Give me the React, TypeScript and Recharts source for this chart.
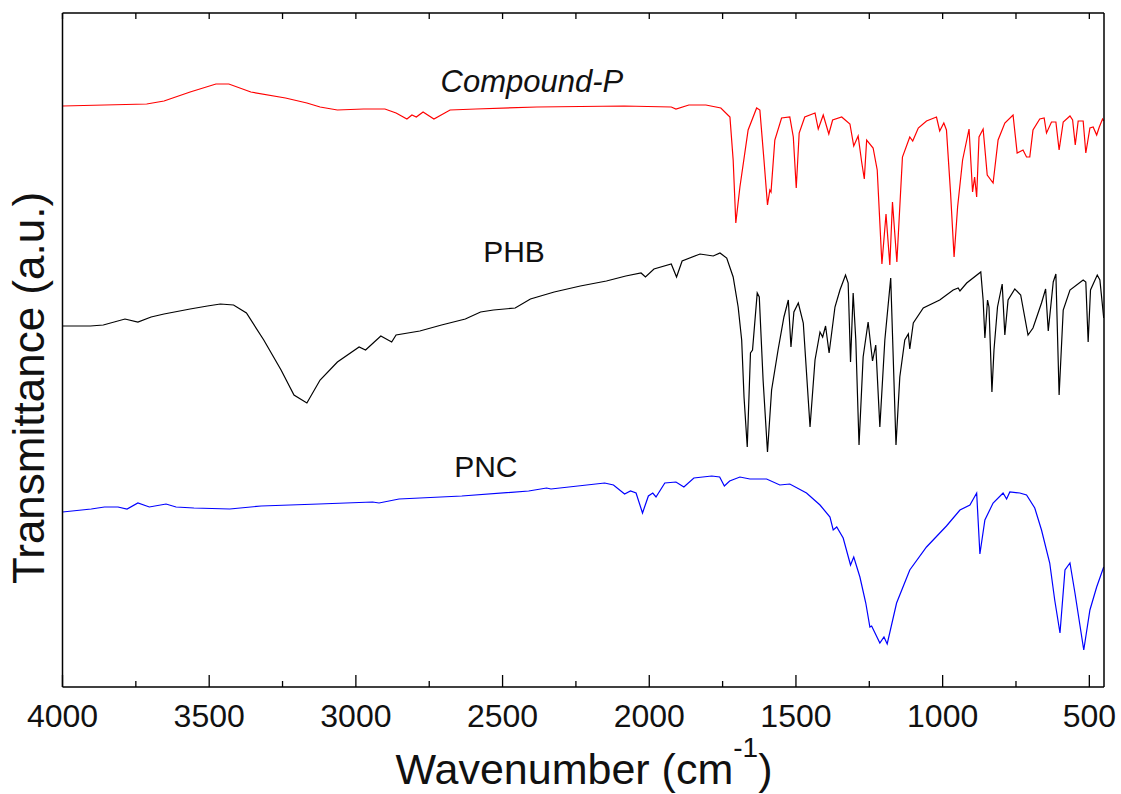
import { LineChart, Line, XAxis, YAxis, ReferenceDot } from 'recharts'

// wavenumber (cm-1) / transmittance (a.u., offset per trace)
const compoundWn = [4000, 3713, 3654, 3565, 3477, 3433, 3358, 3240, 3167, 3122, 3063, 2974, 2901, 2863, 2826, 2809, 2794, 2771, 2734, 2679, 2591, 2383, 2086, 1925, 1909, 1865, 1807, 1756, 1725, 1714, 1705, 1691, 1663, 1634, 1623, 1609, 1597, 1589, 1585, 1572, 1549, 1521, 1509, 1499, 1489, 1470, 1435, 1424, 1407, 1388, 1375, 1344, 1316, 1303, 1288, 1276, 1267, 1259, 1237, 1223, 1207, 1193, 1180, 1171, 1156, 1137, 1112, 1102, 1083, 1055, 1021, 1010, 996, 987, 973, 961, 949, 932, 910, 898, 891, 884, 876, 862, 848, 828, 811, 788, 760, 746, 726, 714, 703, 692, 669, 654, 646, 629, 614, 603, 589, 566, 557, 548, 538, 521, 512, 498, 487, 475, 466, 455, 451]
const compoundT = [582, 584, 587, 596, 604, 604, 596, 590, 585, 581, 578, 579, 579, 575, 569, 573, 571, 576, 569, 578, 579, 581, 582, 581, 579, 583, 583, 580, 571, 528, 465, 501, 558, 580, 578, 528, 483, 498, 496, 548, 570, 571, 551, 500, 555, 571, 575, 559, 573, 554, 568, 571, 564, 542, 552, 526, 509, 548, 540, 518, 424, 474, 423, 486, 426, 531, 551, 547, 560, 567, 571, 557, 565, 558, 495, 431, 481, 528, 559, 496, 511, 491, 551, 559, 513, 505, 548, 565, 573, 535, 538, 531, 531, 558, 569, 570, 555, 566, 566, 538, 566, 572, 568, 543, 567, 567, 535, 560, 561, 553, 561, 569, 567]

const phbWn = [4000, 3905, 3861, 3787, 3743, 3698, 3654, 3565, 3506, 3462, 3417, 3373, 3314, 3255, 3211, 3167, 3122, 3063, 2989, 2967, 2915, 2878, 2863, 2782, 2708, 2627, 2575, 2531, 2457, 2405, 2324, 2235, 2146, 2080, 2028, 2013, 1984, 1925, 1907, 1888, 1827, 1782, 1759, 1736, 1714, 1697, 1685, 1677, 1666, 1655, 1648, 1632, 1625, 1612, 1597, 1583, 1561, 1541, 1526, 1517, 1507, 1492, 1475, 1452, 1435, 1418, 1409, 1399, 1387, 1367, 1350, 1331, 1322, 1314, 1305, 1296, 1285, 1271, 1254, 1239, 1228, 1214, 1197, 1177, 1159, 1146, 1129, 1117, 1112, 1100, 1066, 1010, 964, 947, 941, 918, 870, 862, 856, 847, 842, 832, 825, 813, 797, 788, 777, 754, 734, 709, 692, 663, 649, 640, 623, 614, 603, 589, 566, 521, 512, 504, 496, 473, 464, 451]
const phbT = [362, 362, 363, 369, 366, 371, 374, 379, 382, 384, 383, 375, 348, 318, 293, 285, 308, 326, 341, 338, 352, 346, 353, 357, 363, 369, 376, 378, 380, 389, 396, 402, 407, 412, 415, 411, 419, 424, 411, 427, 434, 432, 435, 430, 411, 381, 348, 291, 241, 335, 338, 395, 391, 308, 236, 298, 338, 371, 388, 341, 376, 385, 365, 261, 328, 356, 351, 362, 335, 381, 398, 413, 405, 326, 395, 348, 243, 331, 366, 327, 343, 261, 348, 410, 243, 311, 348, 354, 339, 365, 380, 388, 398, 400, 397, 405, 416, 388, 350, 388, 381, 296, 338, 381, 404, 353, 388, 399, 393, 353, 360, 385, 399, 357, 406, 414, 293, 378, 398, 408, 406, 346, 398, 413, 408, 370]

const pncWn = [4000, 3902, 3857, 3811, 3780, 3743, 3704, 3647, 3613, 3552, 3430, 3323, 3126, 2943, 2921, 2853, 2639, 2411, 2350, 2335, 2152, 2122, 2084, 2064, 2045, 2023, 2003, 1988, 1977, 1947, 1909, 1882, 1848, 1787, 1760, 1744, 1726, 1691, 1657, 1600, 1555, 1521, 1464, 1418, 1384, 1373, 1361, 1339, 1314, 1303, 1282, 1262, 1248, 1242, 1214, 1200, 1189, 1157, 1112, 1055, 987, 941, 907, 884, 873, 856, 828, 794, 782, 771, 737, 714, 686, 663, 635, 618, 600, 583, 566, 549, 519, 498, 475, 451]
const pncT = [176, 179, 181, 181, 179, 185, 181, 184, 181, 180, 179, 182, 184, 186, 185, 189, 192, 197, 200, 199, 205, 203, 194, 197, 195, 175, 192, 195, 191, 205, 206, 201, 210, 212, 211, 202, 207, 211, 209, 209, 203, 204, 195, 183, 171, 158, 161, 150, 123, 131, 111, 85, 61, 62, 45, 51, 44, 85, 118, 141, 162, 178, 183, 195, 134, 168, 185, 195, 189, 196, 195, 193, 180, 158, 125, 88, 55, 118, 125, 95, 38, 78, 101, 121]

const xTicks = [4000, 3750, 3500, 3250, 3000, 2750, 2500, 2250, 2000, 1750, 1500, 1250, 1000, 750, 500]
const yTicks = [58, 114, 170, 226, 282, 338, 394, 450, 506, 562, 618]

const FONT = '"Liberation Sans", Arial, Helvetica, sans-serif'

const rows = (wn: number[], t: number[]) => wn.map((w, i) => ({ wn: w, t: t[i] }))

const series = [
  { name: 'Compound-P', color: '#ff0000', data: rows(compoundWn, compoundT), at: [2400, 596], italic: true, size: 31 },
  { name: 'PHB', color: '#000000', data: rows(phbWn, phbT), at: [2461, 426], italic: false, size: 30 },
  { name: 'PNC', color: '#0000ff', data: rows(pncWn, pncT), at: [2557, 211], italic: false, size: 30 },
]

function BottomTick({ x, y, payload }: any) {
  const major = payload.value % 500 === 0
  return (
    <g>
      <line x1={x} x2={x} y1={y} y2={y - (major ? 12 : 6)} stroke="#000" strokeWidth={1.3} />
      {major && (
        <text x={x} y={y + 40} textAnchor="middle" fontSize={32} fontFamily={FONT} fill="#111">
          {payload.value}
        </text>
      )}
    </g>
  )
}

function TopTick({ x, y }: any) {
  return <line x1={x} x2={x} y1={y} y2={y + 6} stroke="#000" strokeWidth={1.3} />
}

export default function App() {
  return (
    <div style={{ position: 'absolute', left: 0, top: 0, background: '#fff' }}>
      <LineChart width={1121} height={794} margin={{ top: 12, right: 16, bottom: 106, left: 61.5 }}>
        <XAxis xAxisId="bottom" dataKey="wn" type="number" domain={[450, 4000]} reversed allowDataOverflow
          ticks={xTicks} interval={0} height={1} tickSize={0} tickMargin={0} tickLine={false}
          tick={<BottomTick />} axisLine={{ stroke: '#000', strokeWidth: 1.5 }}
          label={{
            content: () => (
              <text x={584} y={784} textAnchor="middle" fontSize={43} fontFamily={FONT} fill="#111">
                Wavenumber (cm<tspan dy={-27} fontSize={28}>-1</tspan><tspan dy={27} fontSize={43}>)</tspan>
              </text>
            ),
          }} />
        <XAxis xAxisId="top" orientation="top" dataKey="wn" type="number" domain={[450, 4000]} reversed allowDataOverflow
          ticks={xTicks} interval={0} height={1} tickSize={0} tickMargin={0} tickLine={false}
          tick={<TopTick />} axisLine={{ stroke: '#000', strokeWidth: 1.5 }} />
        <YAxis yAxisId="left" type="number" domain={[1, 675]} allowDataOverflow ticks={yTicks} interval={0}
          width={1} tick={false} tickSize={-6} tickLine={{ stroke: '#000', strokeWidth: 1.3 }}
          axisLine={{ stroke: '#000', strokeWidth: 1.5 }}
          label={{
            content: () => (
              <text transform="translate(44, 388) rotate(-90)" textAnchor="middle" fontSize={44} fontFamily={FONT} fill="#111">
                Transmittance (a.u.)
              </text>
            ),
          }} />
        <YAxis yAxisId="right" orientation="right" type="number" domain={[1, 675]} allowDataOverflow ticks={yTicks} interval={0}
          width={1} tick={false} tickSize={-6} tickLine={{ stroke: '#000', strokeWidth: 1.3 }}
          axisLine={{ stroke: '#000', strokeWidth: 1.5 }} />
        {series.map(s => (
          <Line key={s.name} xAxisId="bottom" yAxisId="left" data={s.data} dataKey="t" type="linear"
            stroke={s.color} strokeWidth={1.2} dot={false} activeDot={false} isAnimationActive={false} />
        ))}
        {series.map(s => (
          <ReferenceDot key={s.name + '-label'} xAxisId="bottom" yAxisId="left" x={s.at[0]} y={s.at[1]} r={0}
            fill="none" stroke="none"
            label={{
              content: (p: any) => (
                <text x={p.viewBox.x + (p.viewBox.width || 0) / 2} y={p.viewBox.y + (p.viewBox.height || 0) / 2}
                  textAnchor="middle" fontSize={s.size} fontStyle={s.italic ? 'italic' : 'normal'}
                  fontFamily={FONT} fill="#111">
                  {s.name}
                </text>
              ),
            }} />
        ))}
      </LineChart>
    </div>
  )
}
